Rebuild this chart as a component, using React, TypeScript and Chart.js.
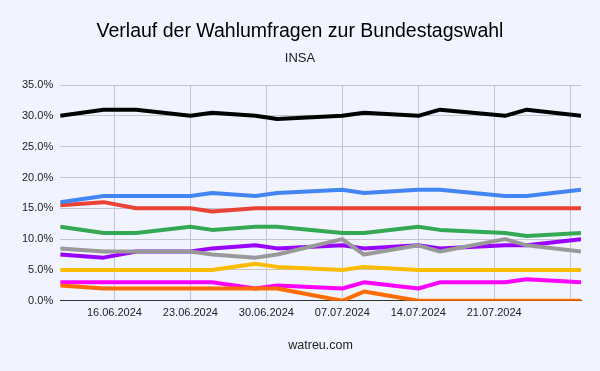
import React, { useEffect, useRef } from "react";
import { Chart, registerables } from "chart.js";

Chart.register(...registerables);

const dates = [
  "2024-06-11", "2024-06-15", "2024-06-18", "2024-06-23", "2024-06-25",
  "2024-06-29", "2024-07-01", "2024-07-07", "2024-07-09", "2024-07-14",
  "2024-07-16", "2024-07-22", "2024-07-24", "2024-07-29",
];

const cduCsu = [30, 31, 31, 30, 30.5, 30, 29.5, 30, 30.5, 30, 31, 30, 31, 30];
const afd = [16, 17, 17, 17, 17.5, 17, 17.5, 18, 17.5, 18, 18, 17, 17, 18];
const spd = [15.5, 16, 15, 15, 14.5, 15, 15, 15, 15, 15, 15, 15, 15, 15];
const gruene = [12, 11, 11, 12, 11.5, 12, 12, 11, 11, 12, 11.5, 11, 10.5, 11];
const sonstige = [8.5, 8, 8, 8, 7.5, 7, 7.5, 10, 7.5, 9, 8, 10, 9, 8];
const bsw = [7.5, 7, 8, 8, 8.5, 9, 8.5, 9, 8.5, 9, 8.5, 9, 9, 10];
const fdp = [5, 5, 5, 5, 5, 6, 5.5, 5, 5.5, 5, 5, 5, 5, 5];
const freieWaehler = [2.5, 2, 2, 2, 2, 2, 2, 0, 1.5, 0, 0, 0, 0, 0];
const linke = [3, 3, 3, 3, 3, 2, 2.5, 2, 3, 2, 3, 3, 3.5, 3];

const yTicks = [0, 5, 10, 15, 20, 25, 30, 35];
const firstTickDate = "2024-06-16";

const titleText = "Verlauf der Wahlumfragen zur Bundestagswahl";
const subtitleText = "INSA";
const footerText = "watreu.com";

const toDay = (s: string) => {
  const [y, m, d] = s.split("-").map(Number);
  return Date.UTC(y, m - 1, d) / 86400000;
};
const fmtDay = (v: number) => {
  const dt = new Date(v * 86400000);
  const dd = String(dt.getUTCDate()).padStart(2, "0");
  const mm = String(dt.getUTCMonth() + 1).padStart(2, "0");
  return `${dd}.${mm}.${dt.getUTCFullYear()}`;
};

const seriesList = [
  { label: "CDU/CSU", data: cduCsu, color: "#000000" },
  { label: "AfD", data: afd, color: "#4285f4" },
  { label: "SPD", data: spd, color: "#ea4335" },
  { label: "Grüne", data: gruene, color: "#34a853" },
  { label: "Sonstige", data: sonstige, color: "#999999" },
  { label: "BSW", data: bsw, color: "#9900ff" },
  { label: "FDP", data: fdp, color: "#fbbc04" },
  { label: "Freie Wähler", data: freieWaehler, color: "#ff6d01" },
  { label: "Linke", data: linke, color: "#ff00ff" },
];

const FONT = "'Liberation Sans', Arial, sans-serif";

const textPlugin = {
  id: "textPlugin",
  afterDraw(chart: any) {
    const ctx = chart.ctx;
    const area = chart.chartArea;
    ctx.save();
    ctx.textAlign = "center";
    ctx.textBaseline = "middle";
    ctx.fillStyle = "#000";
    ctx.font = `19.5px ${FONT}`;
    ctx.fillText(titleText, chart.width / 2, 32);
    ctx.fillStyle = "#222";
    ctx.font = `13px ${FONT}`;
    ctx.fillText(subtitleText, chart.width / 2, 58);
    ctx.font = `12.5px ${FONT}`;
    ctx.fillText(footerText, (area.left + area.right) / 2, 346);
    ctx.restore();
  },
};

export default function App() {
  const ref = useRef<HTMLCanvasElement | null>(null);
  useEffect(() => {
    document.body.style.margin = "0";
    const days = dates.map(toDay);
    const minD = days[0];
    const maxD = days[days.length - 1];
    const startTick = toDay(firstTickDate);
    const chart = new Chart(ref.current as HTMLCanvasElement, {
      type: "line",
      data: {
        datasets: seriesList.map((s) => ({
          label: s.label,
          data: s.data.map((v, i) => ({ x: days[i], y: v })),
          borderColor: s.color,
          backgroundColor: s.color,
          borderWidth: 4,
          pointRadius: 0,
          tension: 0,
          borderJoinStyle: "round" as const,
          borderCapStyle: "butt" as const,
        })),
      },
      options: {
        animation: false,
        responsive: false,
        maintainAspectRatio: false,
        layout: { padding: { left: 15, right: 19, top: 85, bottom: 45 } },
        plugins: {
          legend: { display: false },
          tooltip: { enabled: false },
          title: { display: false },
          subtitle: { display: false },
        },
        scales: {
          x: {
            type: "linear",
            min: minD,
            max: maxD,
            afterBuildTicks: (scale: any) => {
              const t: any[] = [];
              for (let v = startTick; v <= maxD; v += 7) t.push({ value: v });
              scale.ticks = t;
            },
            ticks: {
              autoSkip: false,
              maxRotation: 0,
              padding: 6,
              color: "#222",
              font: { family: FONT, size: 11 },
              callback: (v: any) => (Number(v) + 7 > maxD ? "" : fmtDay(Number(v))),
            },
            grid: { color: "#c3c5cf", drawTicks: false, lineWidth: 1 },
            border: { display: true, color: "#333", width: 1 },
          },
          y: {
            min: 0,
            max: 35,
            afterBuildTicks: (scale: any) => {
              scale.ticks = yTicks.map((v) => ({ value: v }));
            },
            ticks: {
              padding: 7,
              color: "#222",
              font: { family: FONT, size: 11 },
              callback: (v: any) => Number(v).toFixed(1) + "%",
            },
            grid: {
              color: (ctx: any) => (ctx.tick && ctx.tick.value === 0 ? "#333" : "#c3c5cf"),
              drawTicks: false,
            },
            border: { display: false },
          },
        },
      },
      plugins: [textPlugin],
    } as any);
    return () => chart.destroy();
  }, []);
  return (
    <div style={{ width: 600, height: 371, background: "#f1f4fe" }}>
      <canvas ref={ref} width={600} height={371} style={{ display: "block" }} />
    </div>
  );
}
